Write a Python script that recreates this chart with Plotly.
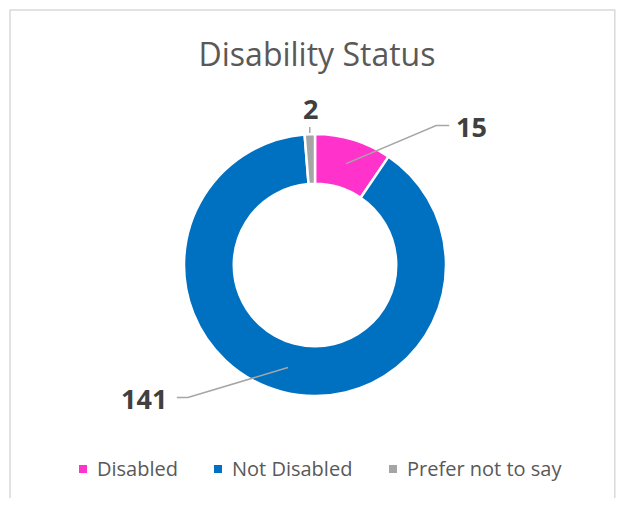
import math
import plotly.graph_objects as go

# data
labels = ["Disabled", "Not Disabled", "Prefer not to say"]
values = [15, 141, 2]
colors = ["#FF33CC", "#0070C0", "#A5A5A5"]

# the page body adds an 8px margin, so the figure is a bit smaller than the window
PAGE_OFF = 8
W, H = 624 - 2 * PAGE_OFF, 506 - 2 * PAGE_OFF
cx, cy, r_out, hole = 315, 265, 131, 0.62
r_in = r_out * hole
FONT = "Open Sans"


def to_paper(x, y):
    # window pixel -> paper coordinates
    return (x - PAGE_OFF) / W, 1 - (y - PAGE_OFF) / H


# label leader layout: (radius of anchor, elbow dx, elbow dy, tail, text side)
leaders = [
    dict(r=(r_in + r_out) / 2, dx=90, dy=-38, tail=13, side="right"),
    dict(r=(r_in + r_out) / 2, dx=-100, dy=30, tail=-11, side="left"),
    dict(r=r_out + 1, dx=0, dy=-6, tail=0, side="top"),
]
legend_left = [79, 214, 389]

fig = go.Figure()
x0, y1 = to_paper(cx - r_out, cy - r_out)
x1, y0 = to_paper(cx + r_out, cy + r_out)
fig.add_trace(go.Pie(
    labels=labels,
    values=values,
    hole=hole,
    sort=False,
    direction="clockwise",
    rotation=0,
    marker=dict(colors=colors, line=dict(color="white", width=2.5)),
    textinfo="none",
    hoverinfo="label+value",
    showlegend=False,
    domain=dict(x=[x0, x1], y=[y0, y1]),
))

shapes = []
annotations = []
total = sum(values)
cum = 0
for v, lab, ld in zip(values, labels, leaders):
    mid = (cum + v / 2) / total * 2 * math.pi
    cum += v
    ax = cx + ld["r"] * math.sin(mid)
    ay = cy - ld["r"] * math.cos(mid)
    ex, ey = ax + ld["dx"], ay + ld["dy"]
    tx = ex + ld["tail"]
    p0, p1, p2 = to_paper(ax, ay), to_paper(ex, ey), to_paper(tx, ey)
    shapes.append(dict(
        type="path", xref="paper", yref="paper", layer="above",
        path=f"M {p0[0]},{p0[1]} L {p1[0]},{p1[1]} L {p2[0]},{p2[1]}",
        line=dict(color="#A6A6A6", width=1.5),
    ))
    if ld["side"] == "right":
        pos, xa = to_paper(tx + 5, ey + 1), "left"
    elif ld["side"] == "left":
        pos, xa = to_paper(tx - 8, ey + 1), "right"
    else:
        pos, xa = to_paper(tx + 1, ey - 19), "center"
    annotations.append(dict(
        x=pos[0], y=pos[1], xref="paper", yref="paper",
        xanchor=xa, yanchor="middle", showarrow=False, text=f"<b>{v}</b>",
        font=dict(family=FONT, size=27, color="#404040"),
    ))

# legend drawn as small squares + text
for lab, col, lx in zip(labels, colors, legend_left):
    sx0, sy0 = to_paper(lx, 465)
    sx1, sy1 = to_paper(lx + 8, 473)
    shapes.append(dict(type="rect", xref="paper", yref="paper",
                       x0=sx0, x1=sx1, y0=sy1, y1=sy0,
                       fillcolor=col, line=dict(width=0)))
    tx, ty = to_paper(lx + 16, 468)
    annotations.append(dict(
        x=tx, y=ty, xref="paper", yref="paper", xanchor="left",
        yanchor="middle", showarrow=False, text=lab,
        font=dict(family=FONT, size=20, color="#595959"),
    ))

# chart border
bx0, by1 = to_paper(10, 10)
shapes.append(dict(
    type="rect", xref="paper", yref="paper", layer="below",
    x0=bx0, x1=0.998, y0=-0.1, y1=by1,
    line=dict(color="#D9D9D9", width=1.5),
))

tx, ty = to_paper(317, 55)
fig.update_layout(
    width=W, height=H,
    margin=dict(l=0, r=0, t=0, b=0),
    paper_bgcolor="white",
    title=dict(text="Disability Status", x=tx, xanchor="center",
               y=ty, yanchor="middle",
               font=dict(family=FONT, size=32, color="#595959")),
    showlegend=False,
    shapes=shapes,
    annotations=annotations,
)

fig.write_html("out.html")
